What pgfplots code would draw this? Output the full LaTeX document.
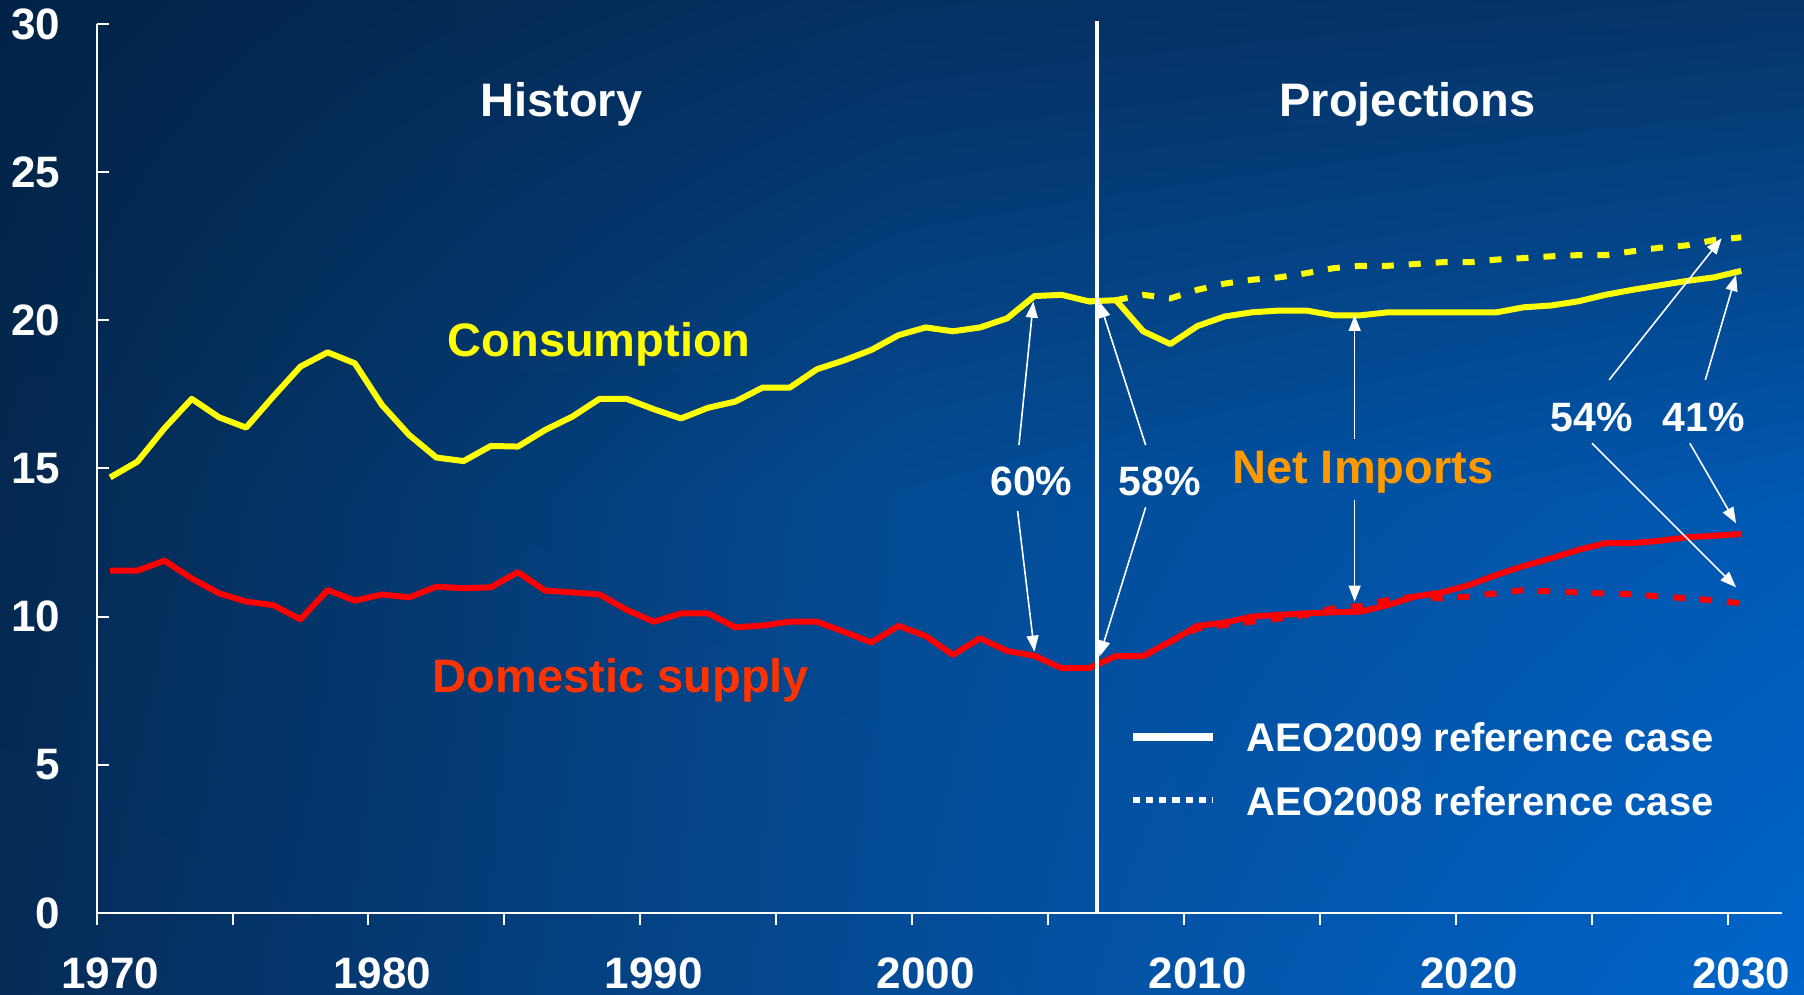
\documentclass[border=0pt]{standalone}
\usepackage{fontspec}
\setmainfont{Liberation Sans}
\usepackage{pgfplots}
\usepackage{pgfplotstable}
\pgfplotsset{compat=1.18}
\usetikzlibrary{arrows.meta,shadings}

\definecolor{bgTL}{HTML}{022347}
\definecolor{bgTM}{HTML}{053062}
\definecolor{bgTR}{HTML}{063568}
\definecolor{bgML}{HTML}{04284F}
\definecolor{bgMM}{HTML}{034B94}
\definecolor{bgMR}{HTML}{0058B2}
\definecolor{bgBL}{HTML}{052B57}
\definecolor{bgBM}{HTML}{044C98}
\definecolor{bgBR}{HTML}{0066CC}
\definecolor{consY}{HTML}{FFFF00}
\definecolor{domR}{HTML}{FF0000}
\definecolor{domText}{HTML}{FF3300}
\definecolor{netO}{HTML}{FF9900}

\newcommand{\fbig}{\fontsize{23.5bp}{23.5bp}\selectfont\bfseries}
\newcommand{\fpct}{\fontsize{20.5bp}{20.5bp}\selectfont\bfseries}
\newcommand{\fleg}{\fontsize{20bp}{20bp}\selectfont\bfseries}
\newcommand{\ftick}{\fontsize{22bp}{22bp}\selectfont\bfseries}

\pgfplotstableread{
year val
1970 14.70
1971 15.23
1972 16.36
1973 17.35
1974 16.73
1975 16.38
1976 17.43
1977 18.44
1978 18.92
1979 18.55
1980 17.14
1981 16.13
1982 15.37
1983 15.25
1984 15.76
1985 15.74
1986 16.30
1987 16.75
1988 17.35
1989 17.35
1990 17.00
1991 16.69
1992 17.05
1993 17.26
1994 17.73
1995 17.73
1996 18.35
1997 18.65
1998 19.00
1999 19.50
2000 19.76
2001 19.63
2002 19.76
2003 20.07
2004 20.82
2005 20.86
2006 20.64
2007 20.68
2008 19.63
2009 19.20
2010 19.81
2011 20.13
2012 20.27
2013 20.33
2014 20.33
2015 20.17
2016 20.17
2017 20.27
2018 20.27
2019 20.27
2020 20.27
2021 20.27
2022 20.44
2023 20.50
2024 20.64
2025 20.86
2026 21.03
2027 21.18
2028 21.33
2029 21.45
2030 21.67
}\consNine

\pgfplotstableread{
year val
2006 20.64
2007 20.68
2008 20.86
2009 20.74
2010 21.03
2011 21.24
2012 21.37
2013 21.45
2014 21.59
2015 21.76
2016 21.84
2017 21.84
2018 21.90
2019 21.96
2020 21.96
2021 22.05
2022 22.10
2023 22.16
2024 22.20
2025 22.20
2026 22.33
2027 22.45
2028 22.53
2029 22.71
2030 22.80
}\consEight

\pgfplotstableread{
year val
1970 11.55
1971 11.55
1972 11.89
1973 11.29
1974 10.79
1975 10.51
1976 10.39
1977 9.91
1978 10.90
1979 10.54
1980 10.75
1981 10.65
1982 11.01
1983 10.96
1984 10.99
1985 11.50
1986 10.88
1987 10.82
1988 10.75
1989 10.23
1990 9.83
1991 10.11
1992 10.11
1993 9.64
1994 9.70
1995 9.83
1996 9.83
1997 9.49
1998 9.13
1999 9.69
2000 9.35
2001 8.71
2002 9.27
2003 8.84
2004 8.68
2005 8.26
2006 8.26
2007 8.67
2008 8.67
2009 9.16
2010 9.69
2011 9.80
2012 10.00
2013 10.06
2014 10.11
2015 10.15
2016 10.17
2017 10.39
2018 10.68
2019 10.82
2020 11.07
2021 11.41
2022 11.71
2023 11.97
2024 12.25
2025 12.48
2026 12.48
2027 12.56
2028 12.68
2029 12.73
2030 12.79
}\domNine

\pgfplotstableread{
year val
2007 8.67
2008 8.67
2009 9.16
2010 9.60
2011 9.72
2012 9.83
2013 9.94
2014 10.06
2015 10.28
2016 10.36
2017 10.56
2018 10.68
2019 10.62
2020 10.68
2021 10.79
2022 10.90
2023 10.85
2024 10.82
2025 10.78
2026 10.76
2027 10.68
2028 10.62
2029 10.55
2030 10.45
}\domEight

\begin{document}
\begin{tikzpicture}
% background (picture is 902bp x 497.5bp; axis box 842.7bp x 444.5bp at origin)
\shade[upper left=bgTL, upper right=bgTM, lower left=bgML, lower right=bgMM]
  (-48.3bp,207.75bp) rectangle (402.7bp,456.5bp);
\shade[upper left=bgTM, upper right=bgTR, lower left=bgMM, lower right=bgMR]
  (402.7bp,207.75bp) rectangle (853.7bp,456.5bp);
\shade[upper left=bgML, upper right=bgMM, lower left=bgBL, lower right=bgBM]
  (-48.3bp,-41bp) rectangle (402.7bp,207.75bp);
\shade[upper left=bgMM, upper right=bgMR, lower left=bgBM, lower right=bgBR]
  (402.7bp,-41bp) rectangle (853.7bp,207.75bp);

\begin{axis}[
  at={(0,0)}, anchor=south west,
  width=842.7bp, height=444.5bp, scale only axis,
  xmin=1969.5, xmax=2031.5, ymin=0, ymax=30,
  clip=false,
  axis lines*=left,
  axis line style={white, line width=1bp},
  tick align=inside,
  major tick length=6bp,
  tick style={white, line width=1bp},
  xtick={1969.5,1974.5,1979.5,1984.5,1989.5,1994.5,1999.5,2004.5,2009.5,2014.5,2019.5,2024.5,2029.5},
  xticklabels={{},{},{},{},{},{},{},{},{},{},{},{},{}},
  xtick style={yshift=-6bp},
  extra x ticks={1970,1980,1990,2000,2010,2020,2030},
  extra x tick labels={1970,1980,1990,2000,2010,2020,2030},
  extra x tick style={major tick length=0pt},
  ytick={0,5,10,15,20,25,30},
  /pgf/number format/assume math mode=true,
  /pgf/number format/1000 sep={},
  xticklabel style={font=\ftick, text=white, anchor=center, yshift=-30bp},
  yticklabel style={font=\ftick, text=white, anchor=east, inner sep=0pt, xshift=-18bp},
  legend cell align=left,
  legend image code/.code={\draw[#1] (0bp,0bp) -- (40bp,0bp);},
  legend style={at={(0.6124,0.1627)}, anchor=west, draw=none, fill=none,
    inner sep=0pt, outer sep=0pt, column sep=15bp, row sep=16.7bp,
    font=\fleg, text=white,
    nodes={inner sep=0pt, text height=15bp, text depth=0bp}},
]
\addplot[consY, line width=3bp, line join=round, forget plot] table[x=year, y=val] {\consNine};
\addplot[consY, line width=3bp, dash pattern=on 6bp off 7.5bp, forget plot] table[x=year, y=val] {\consEight};
\addplot[domR, line width=3bp, line join=round, forget plot] table[x=year, y=val] {\domNine};
\addplot[domR, line width=3bp, dash pattern=on 6bp off 7.5bp, forget plot] table[x=year, y=val] {\domEight};

\addlegendimage{white, line width=4bp}
\addlegendentry{AEO2009 reference case}
\addlegendimage{white, line width=3bp, dash pattern=on 3.6bp off 3bp}
\addlegendentry{AEO2008 reference case}

\draw[white, line width=2bp] (axis cs:2006.3,0) -- (axis cs:2006.3,30.1);

\node[anchor=base west, text=white, font=\fbig, inner sep=0pt] at (axis cs:1983.6,26.87) {History};
\node[anchor=base west, text=white, font=\fbig, inner sep=0pt] at (axis cs:2013.0,26.87) {Projections};
\node[anchor=base west, text=consY, font=\fbig, inner sep=0pt] at (axis cs:1982.4,18.77) {Consumption};
\node[anchor=base west, text=domText, font=\fbig, inner sep=0pt] at (axis cs:1981.86,7.43) {Domestic supply};
\node[anchor=base west, text=netO, font=\fbig, inner sep=0pt] at (axis cs:2011.26,14.48) {Net Imports};
\node[anchor=base west, text=white, font=\fpct, inner sep=0pt] at (axis cs:2002.36,14.1) {60\%};
\node[anchor=base west, text=white, font=\fpct, inner sep=0pt] at (axis cs:2007.09,14.1) {58\%};
\node[anchor=base west, text=white, font=\fpct, inner sep=0pt] at (axis cs:2022.98,16.24) {54\%};
\node[anchor=base west, text=white, font=\fpct, inner sep=0pt] at (axis cs:2027.1,16.24) {41\%};

\begin{scope}[white, line width=0.8bp, -{Triangle[width=6bp,length=8bp]}]
\draw (axis cs:2003.43,15.79) -- (axis cs:2003.96,20.63);
\draw (axis cs:2003.38,13.57) -- (axis cs:2004.0,8.82);
\draw (axis cs:2008.09,15.79) -- (axis cs:2006.39,20.63);
\draw (axis cs:2008.09,13.69) -- (axis cs:2006.39,8.65);
\draw (axis cs:2015.78,15.99) -- (axis cs:2015.78,20.18);
\draw (axis cs:2015.78,13.94) -- (axis cs:2015.78,10.51);
\draw (axis cs:2025.14,17.99) -- (axis cs:2029.28,22.77);
\draw (axis cs:2024.51,15.85) -- (axis cs:2029.81,10.99);
\draw (axis cs:2028.68,17.99) -- (axis cs:2029.81,21.53);
\draw (axis cs:2028.11,15.85) -- (axis cs:2029.81,13.15);
\end{scope}
\end{axis}
\pgfresetboundingbox
\path (-48.3bp,-41bp) rectangle (853.7bp,456.5bp);
\end{tikzpicture}
\end{document}
